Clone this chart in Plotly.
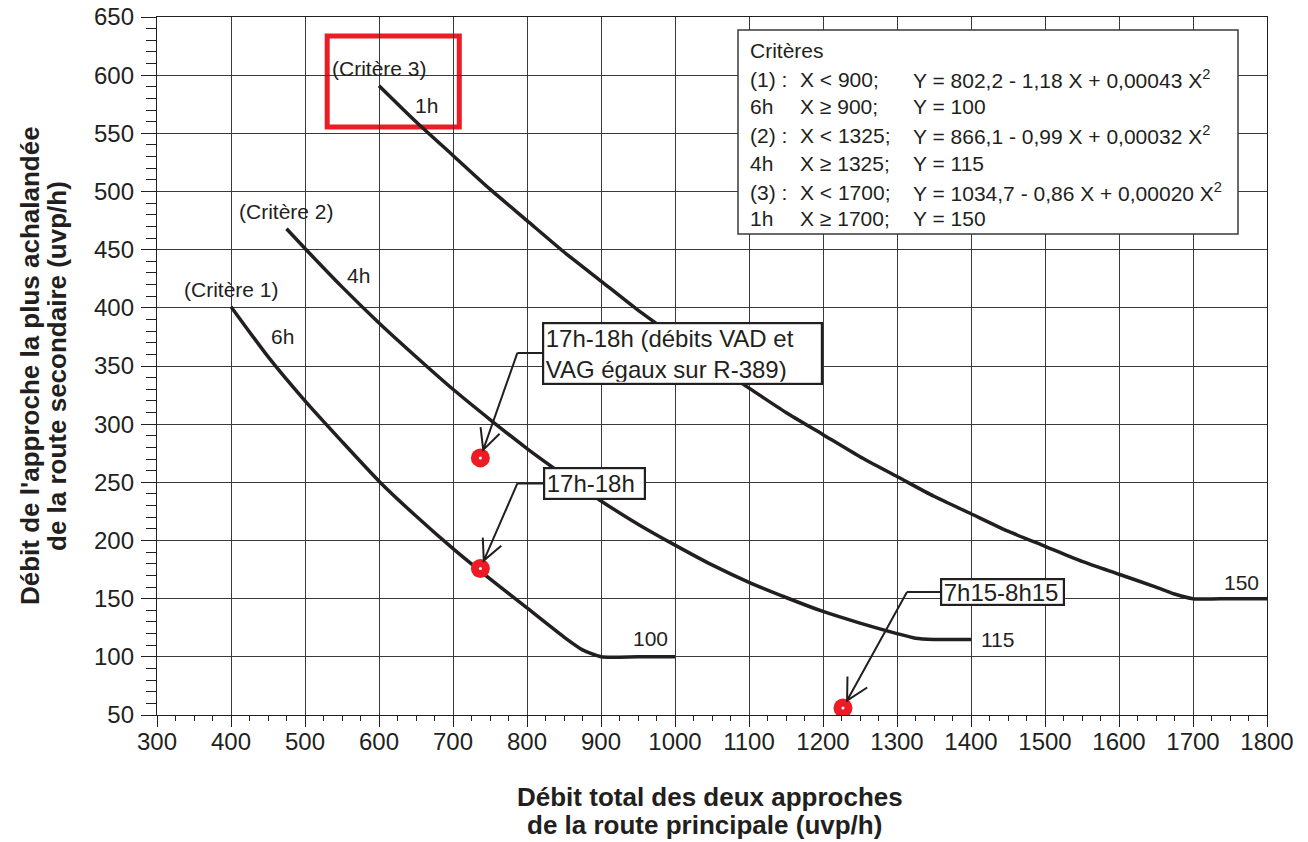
import math
import plotly.graph_objects as go

FONT = "Liberation Sans, Arial, Helvetica, sans-serif"
INK = "#231f20"
RED = "#ed1c24"
GRID = "#3a3a3a"

# Axis ticks
x_ticks = list(range(300, 1801, 100))
y_ticks = list(range(50, 651, 50))

# Critère 1 (6h) : débit secondaire en fonction du débit principal
c1_x = [400, 450, 500, 550, 600, 650, 700, 750, 800, 850, 875, 900, 950, 1000]
c1_y = [401, 358, 320, 285, 251, 221, 193, 167, 142, 117, 106, 100, 100, 100]

# Critère 2 (4h)
c2_x = [475, 500, 550, 600, 650, 700, 750, 800, 850, 900, 950, 1000, 1050,
        1100, 1150, 1200, 1250, 1300, 1325, 1350, 1400]
c2_y = [468, 451, 418, 387, 358, 330, 304, 279, 256, 234, 214, 196, 179,
        164, 151, 139, 129, 120, 116, 115, 115]

# Critère 3 (1h)
c3_x = [600, 650, 700, 750, 800, 850, 900, 950, 1000, 1050, 1100, 1150, 1200,
        1250, 1300, 1350, 1400, 1450, 1500, 1550, 1600, 1650, 1675, 1700, 1750, 1800]
c3_y = [591, 560, 531, 502, 475, 448, 423, 398, 375, 352, 331, 310, 291,
        272, 255, 238, 223, 208, 195, 182, 171, 160, 154, 150, 150, 150]

curve_names = ["(Critère 1)", "(Critère 2)", "(Critère 3)"]

# Débits observés
obs_x = [737, 737, 1227]
obs_y = [271, 176, 56]
obs_labels = ["17h-18h (débits VAD et<br>VAG égaux sur R-389)", "17h-18h", "7h15-8h15"]

# Équations des critères
crit_rows = [
    ("(1) :", "X < 900;", "Y = 802,2 - 1,18 X + 0,00043 X<sup>2</sup>"),
    ("6h", "X ≥ 900;", "Y = 100"),
    ("(2) :", "X < 1325;", "Y = 866,1 - 0,99 X + 0,00032 X<sup>2</sup>"),
    ("4h", "X ≥ 1325;", "Y = 115"),
    ("(3) :", "X < 1700;", "Y = 1034,7 - 0,86 X + 0,00020 X<sup>2</sup>"),
    ("1h", "X ≥ 1700;", "Y = 150"),
]

W, H = 1308, 842
ML, MR, MT, MB = 157, 41, 17, 127
PW, PH = W - ML - MR, H - MT - MB


def px_x(p):
    return (p - ML) / PW


def px_y(p):
    return (H - MB - p) / PH


fig = go.Figure()

curves = [(c1_x, c1_y), (c2_x, c2_y), (c3_x, c3_y)]
for xs, ys in curves:
    fig.add_trace(go.Scatter(
        x=xs, y=ys, mode="lines",
        line=dict(color=INK, width=3.5, shape="spline", smoothing=0.6),
        hoverinfo="skip", showlegend=False,
    ))

fig.add_trace(go.Scatter(
    x=obs_x, y=obs_y, mode="markers",
    marker=dict(size=19, color=RED, line=dict(width=0)),
    hoverinfo="skip", showlegend=False,
))
fig.add_trace(go.Scatter(
    x=obs_x, y=obs_y, mode="markers",
    marker=dict(size=3, color="white", line=dict(width=0)),
    hoverinfo="skip", showlegend=False,
))

# Curve start labels
for (xs, ys), name in zip(curves, curve_names):
    fig.add_annotation(x=xs[0], y=ys[0], text=name, showarrow=False,
                       yshift=17, font=dict(size=21, color=INK))

# Durations and plateau values
side_labels = [
    (469, 375, "6h"), (572, 428, "4h"), (664, 574, "1h"),
    (967, 116, "100"), (1436, 115, "115"), (1766, 164, "150"),
]
for lx, ly, t in side_labels:
    fig.add_annotation(x=lx, y=ly, text=t, showarrow=False,
                       font=dict(size=21, color=INK))

# Callouts: elbow offset from the point (screen px), box centre offset from the elbow
callouts = [
    dict(elbow=(37, -105), box=(165, 1), size=24, w=274, h=56, spread=26, arm=23),
    dict(elbow=(37, -85), box=(77, 0), size=24, w=96, h=26, spread=26, arm=23),
    dict(elbow=(64, -116), box=(96, 0), size=24, w=118, h=21, spread=28, arm=24),
]
STANDOFF = 8.5
for i, c in enumerate(callouts):
    ex, ey = c["elbow"]
    length = math.hypot(ex, ey)
    ux, uy = ex / length, ey / length
    tx, ty = ux * STANDOFF, uy * STANDOFF
    arms = []
    for sgn in (1, -1):
        th = math.radians(sgn * c["spread"])
        rx = ux * math.cos(th) - uy * math.sin(th)
        ry = ux * math.sin(th) + uy * math.cos(th)
        arms.append((tx + rx * c["arm"], ty + ry * c["arm"]))
    # pixel offsets with y pointing up for the shape path
    pts = [(tx, -ty), (ex, -ey), (arms[0][0], -arms[0][1]), (arms[1][0], -arms[1][1])]
    (p0, p1, p2, p3) = [f"{a:.2f},{b:.2f}" for a, b in pts]
    fig.add_shape(
        type="path", xref="x", yref="y",
        xsizemode="pixel", ysizemode="pixel", xanchor=obs_x[i], yanchor=obs_y[i],
        path=f"M{p0} L{p1} M{p2} L{p0} L{p3}",
        line=dict(color=INK, width=2), fillcolor="rgba(0,0,0,0)", layer="above",
    )
    bx, by = c["box"]
    fig.add_annotation(
        x=obs_x[i], y=obs_y[i], xshift=ex, yshift=-ey,
        ax=bx, ay=by, axref="pixel", ayref="pixel",
        showarrow=True, arrowhead=0, arrowwidth=2, arrowcolor=INK, standoff=0,
        text=obs_labels[i], align="left", width=c["w"], height=c["h"],
        bgcolor="white", bordercolor=INK, borderwidth=2.2, borderpad=1.5,
        font=dict(size=c["size"], color=INK),
    )

# Criteria box
fig.add_shape(type="rect", xref="paper", yref="paper",
              x0=px_x(738), x1=px_x(1238), y0=px_y(234), y1=px_y(30),
              line=dict(color="#3a3a3a", width=1.5), fillcolor="white", layer="above")
fig.add_annotation(xref="paper", yref="paper", x=px_x(748), y=px_y(50),
                   text="Critères", showarrow=False, xanchor="left", yanchor="middle",
                   font=dict(size=21, color=INK))
row_y = [79, 107, 135, 163, 192, 219]
col_x = [748, 798, 911]
for ry, row in zip(row_y, crit_rows):
    for cx, txt in zip(col_x, row):
        fig.add_annotation(xref="paper", yref="paper", x=px_x(cx), y=px_y(ry),
                           text=txt, showarrow=False, xanchor="left", yanchor="middle",
                           font=dict(size=21, color=INK))

# Highlight around criterion 3
fig.add_shape(type="rect", x0=530, x1=708.5, y0=555.4, y1=633.7,
              line=dict(color=RED, width=5), layer="below")

# Axis titles
fig.add_annotation(xref="paper", yref="paper", x=px_x(710), y=0, yshift=-82,
                   text="<b>Débit total des deux approches</b>", showarrow=False,
                   yanchor="middle", font=dict(size=26, color=INK))
fig.add_annotation(xref="paper", yref="paper", x=px_x(704), y=0, yshift=-110,
                   text="<b>de la route principale (uvp/h)</b>", showarrow=False,
                   yanchor="middle", font=dict(size=26, color=INK))
fig.add_annotation(xref="paper", yref="paper", x=0, y=0.5, xshift=-127,
                   text="<b>Débit de l'approche la plus achalandée</b>", showarrow=False,
                   textangle=-90, xanchor="center", yanchor="middle",
                   font=dict(size=26, color=INK))
fig.add_annotation(xref="paper", yref="paper", x=0, y=0.5, xshift=-100,
                   text="<b>de la route secondaire (uvp/h)</b>", showarrow=False,
                   textangle=-90, xanchor="center", yanchor="middle",
                   font=dict(size=26, color=INK))

axis_common = dict(
    ticks="outside", tickwidth=1.3, tickcolor=INK,
    showgrid=True, gridcolor=GRID, gridwidth=1,
    showline=True, linecolor=INK, linewidth=1.3, mirror=True,
    zeroline=False, fixedrange=True, automargin=False,
    tickfont=dict(size=24, color=INK),
)
fig.update_xaxes(range=[300, 1800], tickvals=x_ticks, ticklen=11, ticklabelstandoff=-6,
                 minor=dict(tick0=300, dtick=25, ticks="outside", ticklen=5,
                            tickcolor=INK, tickwidth=1.2, showgrid=False),
                 **axis_common)
fig.update_yaxes(range=[50, 650], tickvals=y_ticks, ticklen=15, ticklabelstandoff=2,
                 minor=dict(tick0=50, dtick=10, ticks="outside", ticklen=10,
                            tickcolor=INK, tickwidth=1.2, showgrid=False),
                 **axis_common)

fig.update_layout(
    width=W, height=H, margin=dict(l=ML, r=MR, t=MT, b=MB, autoexpand=False),
    paper_bgcolor="white", plot_bgcolor="white",
    font=dict(family=FONT, color=INK),
    showlegend=False, hovermode=False,
)

fig.write_html("out.html")
